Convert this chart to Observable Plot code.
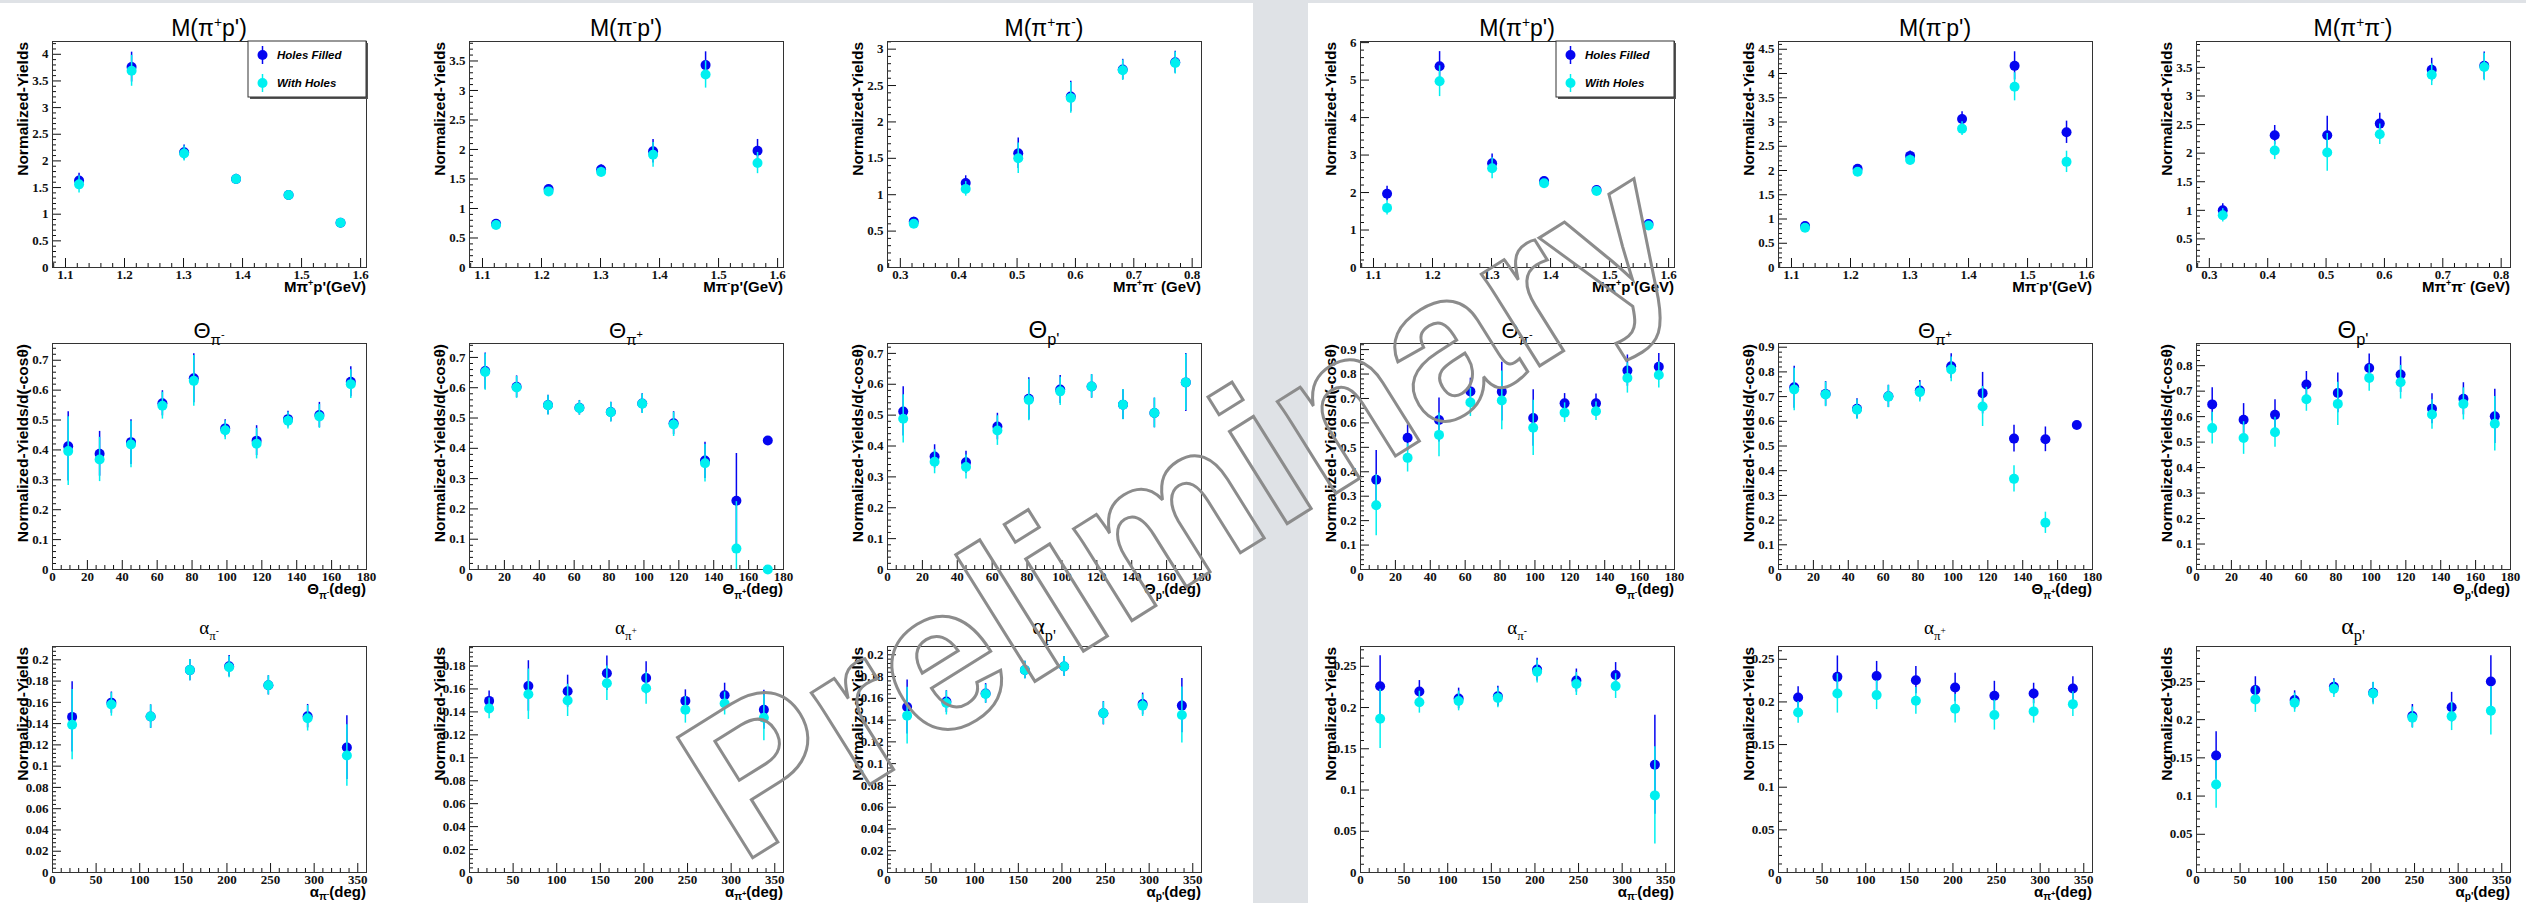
<!DOCTYPE html>
<html>
<head>
<meta charset="utf-8">
<script src="https://cdn.jsdelivr.net/npm/d3@7"></script>
<script src="https://cdn.jsdelivr.net/npm/@observablehq/plot@0.6"></script>
<style>
  body { margin: 0; background: #dfe2e6; }
  #page { position: relative; width: 2526px; height: 903px; overflow: hidden; background: #dfe2e6; }
  .half { position: absolute; background: #ffffff; }
  .panel { position: absolute; }
  #mark { position: absolute; left: 0; top: 0; pointer-events: none; overflow: hidden; }
</style>
</head>
<body>
<div id="page"></div>
<script>
// ---------- bin centres ----------
const massPiPBins  = [1.123, 1.212, 1.301, 1.389, 1.478, 1.566];
const massPiPiBins = [0.323, 0.412, 0.502, 0.592, 0.681, 0.771];
const thetaBins    = [9, 27, 45, 63, 81, 99, 117, 135, 153, 171];
const alphaBins    = [22.5, 67.5, 112.5, 157.5, 202.5, 247.5, 292.5, 337.5];

// ---------- first data set (left half) ----------
const a_MpipP_fill    = [1.63, 3.76, 2.16, 1.66, 1.36, 0.84];
const a_MpipP_fillErr = [0.14, 0.28, 0.14, 0.09, 0.06, 0.05];
const a_MpipP_hole    = [1.56, 3.69, 2.14, 1.66, 1.36, 0.84];
const a_MpipP_holeErr = [0.16, 0.29, 0.14, 0.09, 0.06, 0.05];

const a_MpimP_fill    = [0.74, 1.33, 1.66, 1.97, 3.43, 1.98];
const a_MpimP_fillErr = [0.05, 0.05, 0.08, 0.20, 0.225, 0.19];
const a_MpimP_hole    = [0.72, 1.29, 1.62, 1.91, 3.27, 1.77];
const a_MpimP_holeErr = [0.05, 0.05, 0.08, 0.21, 0.23, 0.18];

const a_MpipPim_fill    = [0.63, 1.16, 1.57, 2.35, 2.72, 2.82];
const a_MpipPim_fillErr = [0.06, 0.10, 0.21, 0.21, 0.14, 0.15];
const a_MpipPim_hole    = [0.60, 1.08, 1.50, 2.33, 2.71, 2.81];
const a_MpipPim_holeErr = [0.06, 0.10, 0.21, 0.21, 0.14, 0.15];

const a_ThPim_fill    = [0.412, 0.387, 0.426, 0.556, 0.640, 0.472, 0.431, 0.503, 0.517, 0.628];
const a_ThPim_fillErr = [0.116, 0.075, 0.075, 0.042, 0.082, 0.029, 0.050, 0.026, 0.042, 0.050];
const a_ThPim_hole    = [0.396, 0.368, 0.418, 0.548, 0.631, 0.466, 0.421, 0.498, 0.512, 0.620];
const a_ThPim_holeErr = [0.115, 0.074, 0.078, 0.045, 0.085, 0.032, 0.051, 0.028, 0.040, 0.048];

const a_ThPip_fill    = [0.655, 0.603, 0.543, 0.534, 0.520, 0.548, 0.483, 0.360, 0.227, 0.426];
const a_ThPip_fillErr = [0.060, 0.036, 0.032, 0.024, 0.032, 0.032, 0.038, 0.060, 0.156, 0.010];
const a_ThPip_hole    = [0.652, 0.601, 0.542, 0.533, 0.519, 0.547, 0.479, 0.351, 0.069, 0];
const a_ThPip_holeErr = [0.060, 0.036, 0.032, 0.024, 0.032, 0.032, 0.040, 0.062, 0.155, 0];

const a_ThP_fill    = [0.512, 0.366, 0.347, 0.463, 0.553, 0.583, 0.593, 0.534, 0.507, 0.606];
const a_ThP_fillErr = [0.080, 0.038, 0.036, 0.043, 0.068, 0.045, 0.038, 0.048, 0.048, 0.094];
const a_ThP_hole    = [0.488, 0.349, 0.332, 0.450, 0.549, 0.577, 0.593, 0.534, 0.507, 0.606];
const a_ThP_holeErr = [0.078, 0.039, 0.039, 0.048, 0.067, 0.046, 0.038, 0.049, 0.048, 0.091];

const a_AlPim_fill    = [0.1463, 0.1597, 0.1466, 0.1903, 0.1940, 0.1760, 0.1470, 0.1175];
const a_AlPim_fillErr = [0.033, 0.010, 0.011, 0.010, 0.010, 0.009, 0.011, 0.030];
const a_AlPim_hole    = [0.1390, 0.1580, 0.1466, 0.1903, 0.1930, 0.1760, 0.1450, 0.1100];
const a_AlPim_holeErr = [0.033, 0.011, 0.011, 0.010, 0.010, 0.009, 0.012, 0.029];

const a_AlPip_fill    = [0.1496, 0.1626, 0.1580, 0.1737, 0.1696, 0.1496, 0.1545, 0.1418];
const a_AlPip_fillErr = [0.0087, 0.022, 0.014, 0.015, 0.014, 0.0096, 0.0105, 0.017];
const a_AlPip_hole    = [0.1430, 0.1554, 0.1500, 0.1650, 0.1606, 0.1418, 0.1473, 0.1349];
const a_AlPip_holeErr = [0.009, 0.022, 0.014, 0.015, 0.014, 0.0116, 0.010, 0.020];

const a_AlP_fill    = [0.1520, 0.1570, 0.1645, 0.1860, 0.1893, 0.1463, 0.1548, 0.1533];
const a_AlP_fillErr = [0.0248, 0.010, 0.009, 0.008, 0.009, 0.0107, 0.010, 0.025];
const a_AlP_hole    = [0.1441, 0.1557, 0.1640, 0.1860, 0.1893, 0.1463, 0.1533, 0.1447];
const a_AlP_holeErr = [0.026, 0.011, 0.0085, 0.008, 0.009, 0.0104, 0.010, 0.0257];

// ---------- second data set (right half) ----------
const b_MpipP_fill    = [1.97, 5.37, 2.78, 2.31, 2.07, 1.16];
const b_MpipP_fillErr = [0.195, 0.39, 0.25, 0.07, 0.08, 0.08];
const b_MpipP_hole    = [1.59, 4.97, 2.65, 2.25, 2.04, 1.12];
const b_MpipP_holeErr = [0.19, 0.41, 0.28, 0.07, 0.08, 0.08];

const b_MpimP_fill    = [0.856, 2.034, 2.301, 3.062, 4.158, 2.788];
const b_MpimP_fillErr = [0.06, 0.06, 0.10, 0.15, 0.29, 0.23];
const b_MpimP_hole    = [0.820, 1.973, 2.219, 2.863, 3.726, 2.178];
const b_MpimP_holeErr = [0.06, 0.06, 0.10, 0.14, 0.29, 0.22];

const b_MpipPim_fill    = [1.000, 2.314, 2.314, 2.517, 3.459, 3.529];
const b_MpipPim_fillErr = [0.116, 0.17, 0.33, 0.18, 0.20, 0.24];
const b_MpipPim_hole    = [0.913, 2.047, 2.012, 2.331, 3.372, 3.506];
const b_MpipPim_holeErr = [0.116, 0.16, 0.33, 0.18, 0.19, 0.24];

const b_ThPim_fill    = [0.367, 0.539, 0.612, 0.729, 0.728, 0.620, 0.680, 0.680, 0.814, 0.830];
const b_ThPim_fillErr = [0.120, 0.053, 0.090, 0.054, 0.120, 0.116, 0.040, 0.038, 0.064, 0.054];
const b_ThPim_hole    = [0.263, 0.457, 0.551, 0.684, 0.692, 0.580, 0.642, 0.648, 0.784, 0.796];
const b_ThPim_holeErr = [0.125, 0.058, 0.090, 0.058, 0.120, 0.113, 0.040, 0.038, 0.062, 0.053];

const b_ThPip_fill    = [0.738, 0.711, 0.651, 0.701, 0.725, 0.823, 0.714, 0.530, 0.527, 0.585];
const b_ThPip_fillErr = [0.085, 0.050, 0.040, 0.045, 0.040, 0.050, 0.084, 0.054, 0.050, 0.010];
const b_ThPip_hole    = [0.729, 0.709, 0.647, 0.700, 0.718, 0.810, 0.660, 0.367, 0.189, null];
const b_ThPip_holeErr = [0.086, 0.050, 0.040, 0.045, 0.040, 0.050, 0.081, 0.053, 0.043, null];

const b_ThP_fill    = [0.648, 0.588, 0.607, 0.726, 0.693, 0.791, 0.765, 0.631, 0.670, 0.601];
const b_ThP_fillErr = [0.065, 0.063, 0.059, 0.051, 0.078, 0.055, 0.070, 0.059, 0.063, 0.106];
const b_ThP_hole    = [0.555, 0.516, 0.539, 0.668, 0.650, 0.752, 0.735, 0.608, 0.650, 0.572];
const b_ThP_holeErr = [0.062, 0.064, 0.059, 0.047, 0.085, 0.052, 0.066, 0.058, 0.063, 0.107];

const b_AlPim_fill    = [0.2258, 0.2194, 0.2110, 0.2137, 0.2460, 0.2327, 0.2395, 0.1306];
const b_AlPim_fillErr = [0.037, 0.0133, 0.0125, 0.012, 0.0137, 0.014, 0.015, 0.060];
const b_AlPim_hole    = [0.1863, 0.2065, 0.2080, 0.2117, 0.2435, 0.2286, 0.2260, 0.0935];
const b_AlPim_holeErr = [0.036, 0.0133, 0.012, 0.012, 0.0137, 0.014, 0.015, 0.059];

const b_AlPip_fill    = [0.2052, 0.2294, 0.2305, 0.2255, 0.2169, 0.2072, 0.2099, 0.2157];
const b_AlPip_fillErr = [0.0125, 0.0245, 0.017, 0.016, 0.0167, 0.017, 0.012, 0.0137];
const b_AlPip_hole    = [0.1877, 0.2099, 0.2080, 0.2013, 0.1920, 0.1846, 0.1889, 0.1974];
const b_AlPip_holeErr = [0.0128, 0.023, 0.017, 0.0156, 0.0168, 0.0176, 0.0137, 0.0144];

const b_AlP_fill    = [0.1530, 0.2387, 0.2257, 0.2430, 0.2352, 0.2048, 0.2161, 0.2500];
const b_AlP_fillErr = [0.031, 0.0174, 0.012, 0.0105, 0.0135, 0.015, 0.0196, 0.0335];
const b_AlP_hole    = [0.1152, 0.2265, 0.2222, 0.2404, 0.2343, 0.2026, 0.2043, 0.2117];
const b_AlP_holeErr = [0.031, 0.017, 0.0126, 0.0114, 0.0147, 0.014, 0.0186, 0.0317];

// ---------- text ----------
const legendLabels = ["Holes Filled", "With Holes"];
const yTitles = ["Normalized-Yields", "Normalized-Yields/d(-cos\u03b8)", "Normalized-Yields"];
const watermarkText = "Preliminary";

// rich-text pieces: [text, level]; level 0 = normal, 1 = subscript,
// 2 = superscript attached to a subscript, -1 = superscript
const titleMpipP   = [["M(\u03c0", 0], ["+", -1], ["p')", 0]];
const titleMpimP   = [["M(\u03c0", 0], ["-", -1], ["p')", 0]];
const titleMpipPim = [["M(\u03c0", 0], ["+", -1], ["\u03c0", 0], ["-", -1], [")", 0]];
const xlabMpipP    = [["M\u03c0", 0], ["+", -1], ["p'(GeV)", 0]];
const xlabMpimP    = [["M\u03c0", 0], ["-", -1], ["p'(GeV)", 0]];
const xlabMpipPim  = [["M\u03c0", 0], ["+", -1], ["\u03c0", 0], ["-", -1], [" (GeV)", 0]];
const titleThPim = [["\u0398", 0], ["\u03c0", 1], ["-", 2]];
const titleThPip = [["\u0398", 0], ["\u03c0", 1], ["+", 2]];
const titleThP   = [["\u0398", 0], ["p'", 1]];
const xlabThPim  = [["\u0398", 0], ["\u03c0", 1], ["-", 2], ["(deg)", 0]];
const xlabThPip  = [["\u0398", 0], ["\u03c0", 1], ["+", 2], ["(deg)", 0]];
const xlabThP    = [["\u0398", 0], ["p'", 1], ["(deg)", 0]];
const titleAlPim = [["\u03b1", 0], ["\u03c0", 1], ["-", 2]];
const titleAlPip = [["\u03b1", 0], ["\u03c0", 1], ["+", 2]];
const titleAlP   = [["\u03b1", 0], ["p'", 1]];
const xlabAlPim  = [["\u03b1", 0], ["\u03c0", 1], ["-", 2], ["(deg)", 0]];
const xlabAlPip  = [["\u03b1", 0], ["\u03c0", 1], ["+", 2], ["(deg)", 0]];
const xlabAlP    = [["\u03b1", 0], ["p'", 1], ["(deg)", 0]];

// ---------- layout ----------
const BLUE = "#0505f0", CYAN = "#00f0f0";
const FW = 314, FH = 226;                 // frame size
const ML = 62, MR = 14, MT = 48, MB = 40;  // plot margins
const colLeft = [52, 469, 887, 1360, 1778, 2196];
const rowTop = [41, 343, 646];
const xTitleDrop = [25, 25, 25];          // baseline of the x title below the frame, per row

const massAxis  = {xDomain: [1.078, 1.61], xMajor: 0.1, xMinor: 0.02};
const pipiAxis  = {xDomain: [0.278, 0.816], xMajor: 0.1, xMinor: 0.02};
const thetaAxis = {xDomain: [0, 180], xMajor: 20, xMinor: 5};
const alphaAxis = {xDomain: [0, 360], xMajor: 50, xMinor: 10};

const panels = [
  // left half
  {col: 0, row: 0, ...massAxis, xs: massPiPBins, yMax: 4.24, yMajor: 0.5, title: titleMpipP, tSize: 23, xlab: xlabMpipP, legend: true,
   fill: a_MpipP_fill, fillErr: a_MpipP_fillErr, hole: a_MpipP_hole, holeErr: a_MpipP_holeErr},
  {col: 1, row: 0, ...massAxis, xs: massPiPBins, yMax: 3.83, yMajor: 0.5, title: titleMpimP, tSize: 23, xlab: xlabMpimP,
   fill: a_MpimP_fill, fillErr: a_MpimP_fillErr, hole: a_MpimP_hole, holeErr: a_MpimP_holeErr},
  {col: 2, row: 0, ...pipiAxis, xs: massPiPiBins, yMax: 3.105, yMajor: 0.5, title: titleMpipPim, tSize: 23, xlab: xlabMpipPim,
   fill: a_MpipPim_fill, fillErr: a_MpipPim_fillErr, hole: a_MpipPim_hole, holeErr: a_MpipPim_holeErr},
  {col: 0, row: 1, ...thetaAxis, xs: thetaBins, yMax: 0.756, yMajor: 0.1, title: titleThPim, tSize: 22, xlab: xlabThPim,
   fill: a_ThPim_fill, fillErr: a_ThPim_fillErr, hole: a_ThPim_hole, holeErr: a_ThPim_holeErr},
  {col: 1, row: 1, ...thetaAxis, xs: thetaBins, yMax: 0.746, yMajor: 0.1, title: titleThPip, tSize: 22, xlab: xlabThPip,
   fill: a_ThPip_fill, fillErr: a_ThPip_fillErr, hole: a_ThPip_hole, holeErr: a_ThPip_holeErr},
  {col: 2, row: 1, ...thetaAxis, xs: thetaBins, yMax: 0.732, yMajor: 0.1, title: titleThP, tSize: 24, xlab: xlabThP,
   fill: a_ThP_fill, fillErr: a_ThP_fillErr, hole: a_ThP_hole, holeErr: a_ThP_holeErr},
  {col: 0, row: 2, ...alphaAxis, xs: alphaBins, yMax: 0.2125, yMajor: 0.02, title: titleAlPim, tSize: 19, xlab: xlabAlPim,
   fill: a_AlPim_fill, fillErr: a_AlPim_fillErr, hole: a_AlPim_hole, holeErr: a_AlPim_holeErr},
  {col: 1, row: 2, ...alphaAxis, xs: alphaBins, yMax: 0.197, yMajor: 0.02, title: titleAlPip, tSize: 19, xlab: xlabAlPip,
   fill: a_AlPip_fill, fillErr: a_AlPip_fillErr, hole: a_AlPip_hole, holeErr: a_AlPip_holeErr},
  {col: 2, row: 2, ...alphaAxis, xs: alphaBins, yMax: 0.2076, yMajor: 0.02, title: titleAlP, tSize: 24, xlab: xlabAlP,
   fill: a_AlP_fill, fillErr: a_AlP_fillErr, hole: a_AlP_hole, holeErr: a_AlP_holeErr},
  // right half
  {col: 3, row: 0, ...massAxis, xs: massPiPBins, yMax: 6.03, yMajor: 1, title: titleMpipP, tSize: 23, xlab: xlabMpipP, legend: true,
   fill: b_MpipP_fill, fillErr: b_MpipP_fillErr, hole: b_MpipP_hole, holeErr: b_MpipP_holeErr},
  {col: 4, row: 0, ...massAxis, xs: massPiPBins, yMax: 4.66, yMajor: 0.5, title: titleMpimP, tSize: 23, xlab: xlabMpimP,
   fill: b_MpimP_fill, fillErr: b_MpimP_fillErr, hole: b_MpimP_hole, holeErr: b_MpimP_holeErr},
  {col: 5, row: 0, ...pipiAxis, xs: massPiPiBins, yMax: 3.953, yMajor: 0.5, title: titleMpipPim, tSize: 23, xlab: xlabMpipPim,
   fill: b_MpipPim_fill, fillErr: b_MpipPim_fillErr, hole: b_MpipPim_hole, holeErr: b_MpipPim_holeErr},
  {col: 3, row: 1, ...thetaAxis, xs: thetaBins, yMax: 0.925, yMajor: 0.1, title: titleThPim, tSize: 22, xlab: xlabThPim,
   fill: b_ThPim_fill, fillErr: b_ThPim_fillErr, hole: b_ThPim_hole, holeErr: b_ThPim_holeErr},
  {col: 4, row: 1, ...thetaAxis, xs: thetaBins, yMax: 0.915, yMajor: 0.1, title: titleThPip, tSize: 22, xlab: xlabThPip,
   fill: b_ThPip_fill, fillErr: b_ThPip_fillErr, hole: b_ThPip_hole, holeErr: b_ThPip_holeErr},
  {col: 5, row: 1, ...thetaAxis, xs: thetaBins, yMax: 0.887, yMajor: 0.1, title: titleThP, tSize: 24, xlab: xlabThP,
   fill: b_ThP_fill, fillErr: b_ThP_fillErr, hole: b_ThP_hole, holeErr: b_ThP_holeErr},
  {col: 3, row: 2, ...alphaAxis, xs: alphaBins, yMax: 0.274, yMajor: 0.05, title: titleAlPim, tSize: 19, xlab: xlabAlPim,
   fill: b_AlPim_fill, fillErr: b_AlPim_fillErr, hole: b_AlPim_hole, holeErr: b_AlPim_holeErr},
  {col: 4, row: 2, ...alphaAxis, xs: alphaBins, yMax: 0.265, yMajor: 0.05, title: titleAlPip, tSize: 19, xlab: xlabAlPip,
   fill: b_AlPip_fill, fillErr: b_AlPip_fillErr, hole: b_AlPip_hole, holeErr: b_AlPip_holeErr},
  {col: 5, row: 2, ...alphaAxis, xs: alphaBins, yMax: 0.2957, yMajor: 0.05, title: titleAlP, tSize: 24, xlab: xlabAlP,
   fill: b_AlP_fill, fillErr: b_AlP_fillErr, hole: b_AlP_hole, holeErr: b_AlP_holeErr}
];

// ---------- helpers ----------
function tickValues(lo, hi, step, skipStep) {
  const out = [];
  for (let k = Math.ceil(lo / step - 1e-9); k <= Math.floor(hi / step + 1e-9); k++) {
    const v = +(k * step).toFixed(6);
    if (skipStep && Math.abs(v / skipStep - Math.round(v / skipStep)) < 1e-6) continue;
    out.push(v);
  }
  return out;
}
const fmt = d => String(+(+d).toFixed(4));
const blank = () => "";

function rich(sel, parts, size, subShift = 0.30) {
  const shift = {"0": 0, "1": subShift, "2": subShift - 0.28, "-1": -0.38};
  const scale = {"0": 1, "1": 0.68, "2": 0.5, "-1": 0.6};
  let cur = 0;
  for (const [t, lv] of parts) {
    const off = shift[lv] * size;
    sel.append("tspan").attr("dy", (off - cur).toFixed(2)).attr("font-size", (scale[lv] * size).toFixed(1)).text(t);
    cur = off;
  }
}

function series(xs, ys, es) {
  return xs.map((x, i) => ({x, y: ys[i], lo: ys[i] - es[i], hi: ys[i] + es[i]})).filter(d => d.y != null);
}

// ---------- page ----------
const page = d3.select("#page");
page.append("div").attr("class", "half").style("left", "0px").style("top", "3px").style("width", "1253px").style("height", "900px");
page.append("div").attr("class", "half").style("left", "1308px").style("top", "3px").style("width", "1218px").style("height", "900px");

const sans = "'Liberation Sans', Arial, Helvetica, sans-serif";

for (const p of panels) {
  const yDomain = [0, p.yMax];
  const filled = series(p.xs, p.fill, p.fillErr);
  const holes = series(p.xs, p.hole, p.holeErr);

  const svg = Plot.plot({
    width: ML + FW + MR,
    height: MT + FH + MB,
    marginLeft: ML, marginRight: MR, marginTop: MT, marginBottom: MB,
    x: {domain: p.xDomain, label: null},
    y: {domain: yDomain, label: null},
    style: {background: "none", fontFamily: "'Liberation Serif', 'Times New Roman', serif", fontSize: "13px", fontWeight: "bold", color: "#111", overflow: "visible"},
    marks: [
      Plot.axisY({ticks: tickValues(0, p.yMax, p.yMajor / 5, p.yMajor), tickSize: -4, tickFormat: blank, label: null}),
      Plot.axisY({ticks: tickValues(0, p.yMax, p.yMajor), tickSize: -9, tickPadding: 13, tickFormat: fmt, label: null}),
      Plot.axisX({ticks: tickValues(p.xDomain[0], p.xDomain[1], p.xMinor, p.xMajor), tickSize: -4, tickFormat: blank, label: null}),
      Plot.axisX({ticks: tickValues(p.xDomain[0], p.xDomain[1], p.xMajor), tickSize: -9, tickPadding: 11, tickFormat: fmt, label: null}),
      Plot.frame({stroke: "#333", strokeWidth: 1}),
      Plot.ruleX(filled, {x: "x", y1: "lo", y2: "hi", stroke: BLUE, strokeWidth: 1.5, clip: true}),
      Plot.dot(filled, {x: "x", y: "y", r: 5, fill: BLUE}),
      Plot.ruleX(holes, {x: "x", y1: "lo", y2: "hi", stroke: CYAN, strokeWidth: 1.5, clip: true}),
      Plot.dot(holes, {x: "x", y: "y", r: 5, fill: CYAN})
    ]
  });

  const g = d3.select(svg);

  // panel title
  const titleY = p.row === 2 ? MT - 12 : MT - 5;
  const t = g.append("text")
    .attr("x", ML + FW / 2).attr("y", titleY)
    .attr("text-anchor", "middle")
    .attr("font-family", p.row === 2 ? "'Liberation Serif', serif" : sans)
    .attr("font-weight", "normal")
    .attr("fill", "#000");
  rich(t, p.title, p.tSize);

  // y-axis title (reads upwards, ends at the top of the frame)
  g.append("text")
    .attr("transform", `translate(${ML - 24},${MT + 1}) rotate(-90)`)
    .attr("text-anchor", "end")
    .attr("font-family", sans).attr("font-weight", "bold").attr("font-size", 15.5)
    .attr("fill", "#000")
    .text(yTitles[p.row]);

  // x-axis title (right aligned under the frame)
  const xl = g.append("text")
    .attr("x", ML + FW).attr("y", MT + FH + xTitleDrop[p.row])
    .attr("text-anchor", "end")
    .attr("font-family", sans).attr("font-weight", "bold")
    .attr("fill", "#000");
  rich(xl, p.xlab, 15, p.row === 2 ? 0.18 : 0.3);

  // legend box
  if (p.legend) {
    const lx = ML + FW - 118, ly = MT, lw = 118, lh = 56;
    const lg = g.append("g");
    lg.append("rect").attr("x", lx + 2).attr("y", ly + 2).attr("width", lw).attr("height", lh).attr("fill", "#555");
    lg.append("rect").attr("x", lx).attr("y", ly).attr("width", lw).attr("height", lh).attr("fill", "#fff").attr("stroke", "#333").attr("stroke-width", 1);
    [[BLUE, legendLabels[0], 14], [CYAN, legendLabels[1], 42]].forEach(([c, label, dy]) => {
      lg.append("line").attr("x1", lx + 14.5).attr("x2", lx + 14.5).attr("y1", ly + dy - 9).attr("y2", ly + dy + 9).attr("stroke", c).attr("stroke-width", 1.5);
      lg.append("circle").attr("cx", lx + 14.5).attr("cy", ly + dy).attr("r", 5).attr("fill", c);
      lg.append("text").attr("x", lx + 29).attr("y", ly + dy + 4)
        .attr("text-anchor", "start")
        .attr("font-family", sans).attr("font-weight", "bold").attr("font-style", "italic").attr("font-size", 11.5)
        .attr("fill", "#000").text(label);
    });
  }

  page.append("div").attr("class", "panel")
    .style("left", (colLeft[p.col] - ML) + "px")
    .style("top", (rowTop[p.row] - MT) + "px")
    .node().appendChild(svg);
}

// outlined watermark across the middle of the page
const wm = page.append("svg").attr("id", "mark").attr("width", 2526).attr("height", 903);
wm.append("text")
  .attr("transform", "translate(741,865) rotate(-32)")
  .attr("text-anchor", "start")
  .attr("font-family", "'Liberation Sans', Arial, sans-serif")
  .attr("font-weight", "bold")
  .attr("font-size", 206)
  .attr("fill", "none")
  .attr("stroke", "#8c8c8c")
  .attr("stroke-width", 3)
  .text(watermarkText);
</script>
</body>
</html>
